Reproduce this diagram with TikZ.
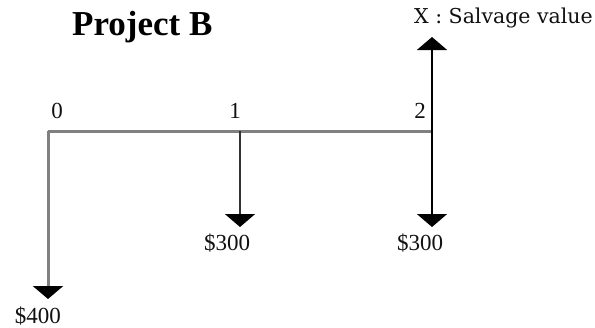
\documentclass[tikz,border=0pt]{standalone}
\usepackage{fontspec}
\setmainfont{Liberation Serif}
\newfontfamily\salvagefont{DejaVu Serif}
\usetikzlibrary{arrows.meta}

\definecolor{flowAxis}{HTML}{808080}
\definecolor{flowDark}{HTML}{333333}
\definecolor{flowInk}{HTML}{111111}

\tikzset{
  flowtip/.style={-{Triangle[width=30pt,length=13pt,color=black]}},
  amount/.style={anchor=base,inner sep=0pt,font=\fontsize{23}{25}\selectfont,text=flowInk},
}

\begin{document}
\begin{tikzpicture}[x=1pt,y=-1pt]
  \useasboundingbox (0,0) rectangle (595,327);

  \node[anchor=base west,inner sep=0pt,font=\bfseries\fontsize{35}{38}\selectfont]
    (title) at (72,35) {Project B};

  % time line
  \coordinate (t0) at (48,131);
  \coordinate (t1) at (240,131);
  \coordinate (t2) at (432,131);
  \foreach \t/\x in {0/57,1/235,2/420}{
    \node[amount] (period\t) at (\x,118) {\t};
  }
  \draw[flowAxis,line width=3pt] (t0) -- (t2);

  % cash flows
  \coordinate (end0) at (48,299);
  \coordinate (end1) at (240,227);
  \coordinate (end2) at (432,227);
  \coordinate (endX) at (432,37);
  \draw[flowtip,flowAxis,line width=3pt] (t0) -- (end0);
  \draw[flowtip,flowDark,line width=2pt] (t1) -- (end1);
  \draw[flowtip,black,line width=2pt] (t2) -- (end2);
  \draw[flowtip,black,line width=2pt] (t2) -- (endX);

  \node[amount] (cash0) at (38,323) {\$400};
  \node[amount] (cash1) at (227,250) {\$300};
  \node[amount] (cash2) at (420,250) {\$300};
  \node[anchor=base west,inner sep=0pt,font=\salvagefont\fontsize{20.5}{23}\selectfont,text=flowInk]
    (salvage) at (414,23) {X : Salvage value};
\end{tikzpicture}
\end{document}
